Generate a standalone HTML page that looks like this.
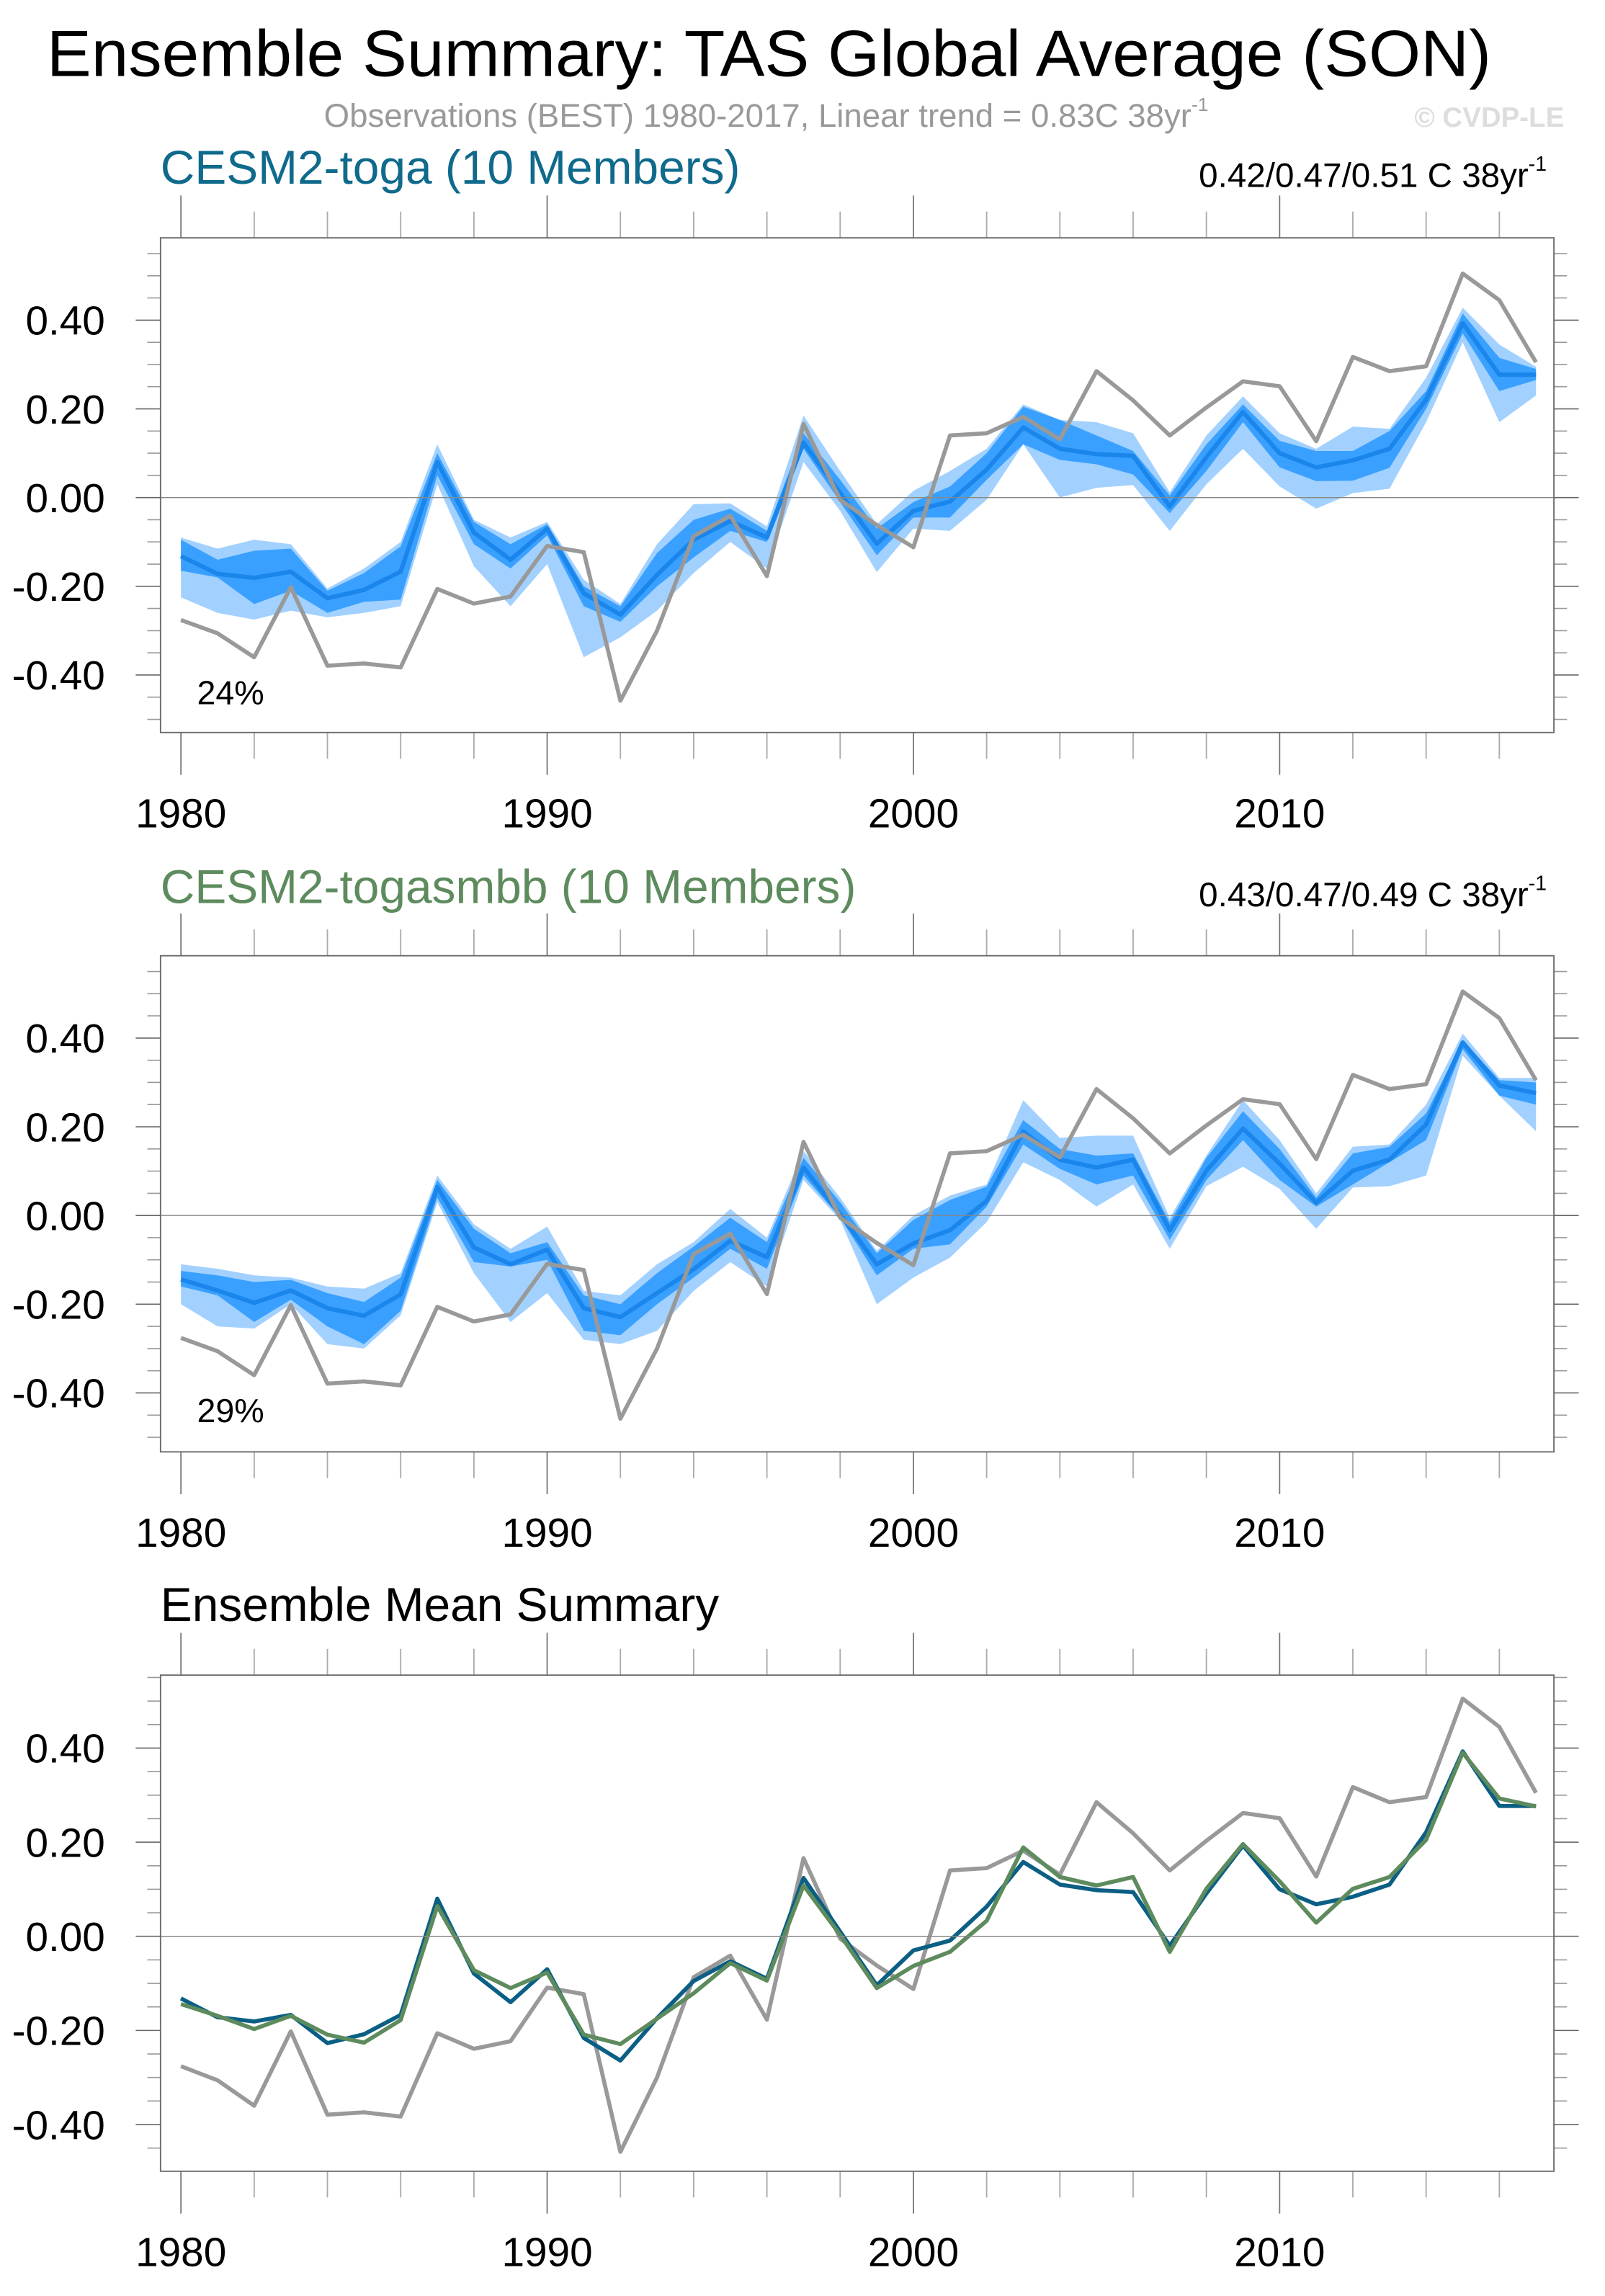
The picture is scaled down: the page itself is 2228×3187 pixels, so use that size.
<!DOCTYPE html>
<html><head><meta charset="utf-8"><style>
html,body{margin:0;padding:0;background:#fff}
svg{display:block}
text{font-family:"Liberation Sans",sans-serif}
</style></head><body>
<svg id="chart" width="2228" height="3187" viewBox="0 0 1100 1573.5" xmlns="http://www.w3.org/2000/svg">
<text x="527" y="52" font-size="45" text-anchor="middle" textLength="990" lengthAdjust="spacingAndGlyphs">Ensemble Summary: TAS Global Average (SON)</text>
<text x="222" y="87" font-size="22.5" fill="#999">Observations (BEST) 1980-2017, Linear trend = 0.83C 38yr<tspan font-size="13" dy="-11">-1</tspan></text>
<text x="1072" y="87" font-size="19" font-weight="bold" fill="#ddd" text-anchor="end">© CVDP-LE</text>
<text x="110" y="126" font-size="32.5" fill="#0f6a8c">CESM2-toga (10 Members)</text>
<text x="1060" y="128" font-size="23.5" text-anchor="end">0.42/0.47/0.51 C 38yr<tspan font-size="14" dy="-11">-1</tspan></text>
<text x="110" y="619" font-size="32.5" fill="#5d8b5d">CESM2-togasmbb (10 Members)</text>
<text x="1060" y="621" font-size="23.5" text-anchor="end">0.43/0.47/0.49 C 38yr<tspan font-size="14" dy="-11">-1</tspan></text>
<text x="110" y="1111" font-size="32.5">Ensemble Mean Summary</text>
<g id="plots"></g>
</svg>
<script>
const years = [];
for (let y = 1980; y <= 2017; y++) years.push(y);
const obs = [-0.276,-0.306,-0.36,-0.202,-0.379,-0.374,-0.383,-0.206,-0.239,-0.223,-0.109,-0.123,-0.458,-0.30,-0.087,-0.041,-0.177,0.166,-0.005,-0.062,-0.112,0.14,0.145,0.182,0.131,0.285,0.219,0.14,0.203,0.262,0.251,0.127,0.317,0.285,0.296,0.505,0.445,0.305];
const togaMean = [-0.132,-0.172,-0.181,-0.167,-0.227,-0.208,-0.167,0.08,-0.079,-0.14,-0.07,-0.216,-0.264,-0.174,-0.095,-0.053,-0.09,0.124,0.01,-0.104,-0.03,-0.009,0.063,0.158,0.11,0.098,0.094,-0.02,0.091,0.193,0.1,0.068,0.084,0.11,0.221,0.393,0.277,0.277];
const togaLightUp = [-0.09,-0.115,-0.095,-0.105,-0.205,-0.16,-0.1,0.12,-0.05,-0.09,-0.055,-0.185,-0.24,-0.105,-0.015,-0.013,-0.065,0.185,0.06,-0.06,0.015,0.06,0.11,0.21,0.175,0.17,0.145,0.012,0.14,0.228,0.145,0.11,0.16,0.155,0.27,0.428,0.345,0.295];
const togaDarkUp = [-0.095,-0.14,-0.12,-0.115,-0.21,-0.17,-0.11,0.1,-0.055,-0.105,-0.06,-0.2,-0.245,-0.125,-0.05,-0.025,-0.075,0.145,0.04,-0.07,-0.01,0.025,0.1,0.205,0.175,0.14,0.105,0.005,0.12,0.21,0.128,0.105,0.105,0.15,0.24,0.415,0.315,0.29];
const togaDarkLo = [-0.165,-0.18,-0.24,-0.21,-0.26,-0.235,-0.23,0.05,-0.105,-0.16,-0.085,-0.245,-0.28,-0.2,-0.135,-0.075,-0.1,0.11,-0.01,-0.13,-0.045,-0.045,0.04,0.12,0.085,0.075,0.052,-0.035,0.06,0.17,0.068,0.037,0.038,0.067,0.2,0.37,0.24,0.265];
const togaLightLo = [-0.225,-0.26,-0.275,-0.255,-0.27,-0.26,-0.245,0.03,-0.155,-0.245,-0.15,-0.36,-0.315,-0.255,-0.17,-0.1,-0.16,0.08,-0.03,-0.168,-0.07,-0.075,-0.005,0.12,0.0,0.022,0.028,-0.075,0.03,0.11,0.025,-0.025,0.01,0.02,0.17,0.35,0.17,0.23];
const smbbMean = [-0.144,-0.169,-0.197,-0.169,-0.209,-0.226,-0.178,0.064,-0.072,-0.11,-0.077,-0.209,-0.229,-0.175,-0.121,-0.057,-0.094,0.108,0.003,-0.11,-0.063,-0.033,0.033,0.189,0.126,0.108,0.126,-0.033,0.101,0.196,0.117,0.029,0.101,0.126,0.205,0.39,0.293,0.276];
const smbbLightUp = [-0.11,-0.12,-0.135,-0.14,-0.16,-0.165,-0.13,0.09,-0.02,-0.075,-0.025,-0.17,-0.18,-0.11,-0.06,0.015,-0.05,0.145,0.04,-0.08,0.0,0.045,0.07,0.26,0.175,0.18,0.18,-0.005,0.135,0.26,0.17,0.05,0.155,0.16,0.25,0.41,0.31,0.31];
const smbbDarkUp = [-0.125,-0.135,-0.15,-0.145,-0.175,-0.195,-0.14,0.08,-0.03,-0.085,-0.06,-0.18,-0.2,-0.13,-0.07,-0.005,-0.06,0.13,0.03,-0.085,-0.01,0.035,0.065,0.215,0.15,0.135,0.14,-0.015,0.13,0.235,0.15,0.04,0.14,0.155,0.23,0.395,0.305,0.3];
const smbbDarkLo = [-0.16,-0.18,-0.24,-0.19,-0.25,-0.29,-0.215,0.04,-0.105,-0.115,-0.1,-0.26,-0.27,-0.2,-0.14,-0.075,-0.12,0.09,-0.005,-0.135,-0.075,-0.065,0.02,0.16,0.105,0.07,0.09,-0.055,0.08,0.17,0.08,0.02,0.07,0.12,0.17,0.375,0.27,0.25];
const smbbLightLo = [-0.2,-0.25,-0.255,-0.2,-0.29,-0.3,-0.225,0.03,-0.13,-0.24,-0.175,-0.28,-0.29,-0.26,-0.17,-0.105,-0.16,0.08,-0.01,-0.2,-0.14,-0.095,-0.015,0.12,0.08,0.02,0.07,-0.075,0.066,0.11,0.06,-0.03,0.063,0.066,0.09,0.36,0.27,0.19];
const yTickValues = [-0.4,-0.2,0,0.2,0.4];
const yTickLabels = ["-0.40","-0.20","0.00","0.20","0.40"];
const xTickYears = [1980,1990,2000,2010];
const xTickLabels = ["1980","1990","2000","2010"];

const NS = "http://www.w3.org/2000/svg";
const root = document.getElementById("plots");
function mk(tag, attrs, parent) {
  const e = document.createElementNS(NS, tag);
  for (const k in attrs) e.setAttribute(k, attrs[k]);
  (parent || root).appendChild(e);
  return e;
}
const L = 110, R = 1065;
function xs(yr) { return 124 + (yr - 1980) * 25.1; }

function drawPanel(id, top, bot, zeroY, perUnit, pctText, content) {
  const g = mk("g", {});
  
  
  const ys = v => zeroY - v * perUnit;
  for (let yr = 1980; yr <= 2017; yr += 2) {
    const major = (yr % 10 === 0);
    const len = major ? 29 : 18;
    const t1 = mk("line", {x1: xs(yr), x2: xs(yr), y1: top - len, y2: top, stroke: major ? "#777" : "#aaa", "stroke-width": 0.9}, g);
    
    
    const t2 = mk("line", {x1: xs(yr), x2: xs(yr), y1: bot, y2: bot + len, stroke: major ? "#777" : "#aaa", "stroke-width": 0.9}, g);
    
    
  }
  const vmin = (zeroY - bot) / perUnit, vmax = (zeroY - top) / perUnit;
  for (let k = Math.ceil(vmin / 0.05); k * 0.05 <= vmax; k++) {
    const v = k * 0.05, y = ys(v);
    const major = (k % 4 === 0);
    const len = major ? 17 : 9;
    const a = mk("line", {x1: L - len, x2: L, y1: y, y2: y, stroke: major ? "#666" : "#999", "stroke-width": 0.8}, g);
    
    
    const b = mk("line", {x1: R, x2: R + len, y1: y, y2: y, stroke: major ? "#666" : "#999", "stroke-width": 0.8}, g);
    
    
  }
  yTickValues.forEach((v, i) => {
    const t = mk("text", {x: 72, y: ys(v) + 10, "font-size": 28, "text-anchor": "end"}, g);
    t.textContent = yTickLabels[i];
    
    
  });
  xTickYears.forEach((yr, i) => {
    const t = mk("text", {x: xs(yr), y: bot + 65, "font-size": 28, "text-anchor": "middle"}, g);
    t.textContent = xTickLabels[i];
    
    
  });
  content(g, ys);
  const z = mk("line", {x1: L, x2: R, y1: ys(0), y2: ys(0), stroke: "#888", "stroke-width": 0.7}, g);
  
  
  const f = mk("rect", {x: L, y: top, width: R - L, height: bot - top, fill: "none", stroke: "#666", "stroke-width": 0.9}, g);
  
  
  if (pctText) {
    const p = mk("text", {x: 135, y: ys(-0.43) + 11, "font-size": 23}, g);
    p.textContent = pctText;
    
    
  }
}
function pts(arr, ys) { return arr.map((v, i) => xs(years[i]).toFixed(2) + "," + ys(v).toFixed(2)).join(" "); }
function band(g, up, lo, ys, color, name) {
  const p = pts(up, ys) + " " + lo.map((v, i) => [xs(years[i]), ys(v)]).reverse().map(a => a[0].toFixed(2) + "," + a[1].toFixed(2)).join(" ");
  const e = mk("polygon", {points: p, fill: color, stroke: "none"}, g);
  
  
}
function line(g, arr, ys, color, w, name) {
  const e = mk("polyline", {points: pts(arr, ys), fill: "none", stroke: color, "stroke-width": w, "stroke-linejoin": "round"}, g);
  
  
}
drawPanel("toga", 163, 502, 341, 304, "24%", (g, ys) => {
  band(g, togaLightUp, togaLightLo, ys, "#a2d1ff", "toga-range-band");
  band(g, togaDarkUp, togaDarkLo, ys, "#3aa0ff", "toga-iqr-band");
  line(g, togaMean, ys, "#1a86ec", 3, "toga-mean-line");
  line(g, obs, ys, "#999", 2.8, "obs-line");
});
drawPanel("smbb", 655, 995, 833, 304, "29%", (g, ys) => {
  band(g, smbbLightUp, smbbLightLo, ys, "#a2d1ff", "smbb-range-band");
  band(g, smbbDarkUp, smbbDarkLo, ys, "#3aa0ff", "smbb-iqr-band");
  line(g, smbbMean, ys, "#1a86ec", 3, "smbb-mean-line");
  line(g, obs, ys, "#999", 2.8, "obs-line");
});
drawPanel("mean", 1148, 1488, 1327, 322.5, null, (g, ys) => {
  line(g, obs, ys, "#999", 2.8, "obs-line");
  line(g, togaMean, ys, "#0b5f84", 2.8, "toga-mean-line");
  line(g, smbbMean, ys, "#5d8b5d", 2.8, "smbb-mean-line");
});
</script>
</body></html>
